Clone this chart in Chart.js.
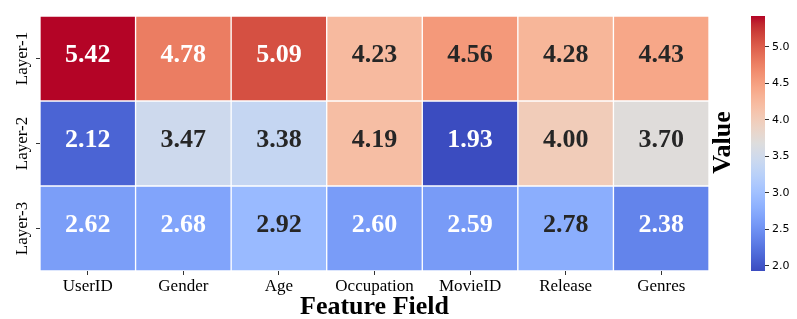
<!DOCTYPE html>
<html><head><meta charset="utf-8">
<script src="https://cdn.jsdelivr.net/npm/chart.js@4.4.1/dist/chart.umd.min.js"></script>
<style>
html,body{margin:0;padding:0;background:#fff;}
#wrap{position:relative;width:797px;height:319px;background:#fff;}
#main{position:absolute;left:0;top:0;}
#cb{position:absolute;left:700px;top:0;}
</style></head><body>
<div id="wrap"><canvas id="main" width="797" height="319"></canvas><canvas id="cb" width="97" height="319"></canvas></div>
<script>
const fields = ['UserID', 'Gender', 'Age', 'Occupation', 'MovieID', 'Release', 'Genres'];
const layers = ['Layer-1', 'Layer-2', 'Layer-3'];
const layer1 = [5.42, 4.78, 5.09, 4.23, 4.56, 4.28, 4.43];
const layer2 = [2.12, 3.47, 3.38, 4.19, 1.93, 4.00, 3.70];
const layer3 = [2.62, 2.68, 2.92, 2.60, 2.59, 2.78, 2.38];
const vmin = 1.93, vmax = 5.42;
const cbTicks = [2.0, 2.5, 3.0, 3.5, 4.0, 4.5, 5.0];
const rows = [layer1, layer2, layer3];

const SERIF = '"Liberation Serif", "Times New Roman", serif';

// coolwarm colormap (Moreland)
const CW = [[59,76,192],[68,90,204],[77,104,215],[87,117,225],[98,130,234],[108,142,241],[119,154,247],[130,165,251],[141,176,254],[152,185,255],[163,194,255],[174,201,253],[184,208,249],[194,213,244],[204,217,238],[213,219,230],[221,221,221],[229,216,209],[236,211,197],[241,204,185],[245,196,173],[247,187,160],[247,177,148],[247,166,135],[244,154,123],[241,141,111],[236,127,99],[229,112,88],[222,96,77],[213,80,66],[203,62,56],[192,40,47],[180,4,38]];
function cmap(t){ t=Math.max(0,Math.min(1,t)); const p=t*(CW.length-1); const i=Math.min(CW.length-2,Math.floor(p)); const f=p-i; const a=CW[i], b=CW[i+1]; return [0,1,2].map(k=>Math.round(a[k]+(b[k]-a[k])*f)); }
function rgb(c){ return 'rgb('+c[0]+','+c[1]+','+c[2]+')'; }
function colorFor(v){ return cmap((v-vmin)/(vmax-vmin)); }
function lum(c){ const l=c.map(x=>{x/=255; return x<=0.03928 ? x/12.92 : Math.pow((x+0.055)/1.055,2.4);}); return 0.2126*l[0]+0.7152*l[1]+0.0722*l[2]; }
function textColorFor(v){ return lum(colorFor(v)) < 0.408 ? '#ffffff' : '#262626'; }

const datasets = rows.map((vals, r) => ({
  label: layers[r],
  stack: 'heat',
  data: vals.map(() => [r, r + 1]),
  values: vals,
  backgroundColor: vals.map(v => rgb(colorFor(v))),
  borderColor: '#ffffff',
  borderWidth: 1,
  borderSkipped: false,
  barPercentage: 1,
  categoryPercentage: 1
}));

const annot = {
  id: 'annot',
  afterDatasetsDraw(chart) {
    const ctx = chart.ctx;
    ctx.save();
    ctx.font = 'bold 26px ' + SERIF;
    ctx.textAlign = 'center';
    ctx.textBaseline = 'middle';
    chart.data.datasets.forEach((ds, di) => {
      chart.getDatasetMeta(di).data.forEach((el, i) => {
        const v = ds.values[i];
        ctx.fillStyle = textColorFor(v);
        ctx.fillText(v.toFixed(2), el.x, (el.y + el.base) / 2 - 3);
      });
    });
    ctx.restore();
  }
};

const ylab = {
  id: 'ylab',
  afterDraw(chart) {
    const s = chart.scales.yl;
    const ctx = chart.ctx;
    ctx.save();
    ctx.font = '17px ' + SERIF;
    ctx.fillStyle = '#000';
    ctx.textAlign = 'center';
    ctx.textBaseline = 'middle';
    layers.forEach((lab, i) => {
      const y = s.getPixelForValue(i);
      ctx.save();
      ctx.translate(s.right - 17.5, y);
      ctx.rotate(-Math.PI / 2);
      ctx.fillText(lab, 0, 0);
      ctx.restore();
    });
    ctx.restore();
  }
};

new Chart(document.getElementById('main'), {
  type: 'bar',
  data: { labels: fields, datasets: datasets },
  options: {
    responsive: false, animation: false, events: [],
    layout: { padding: { left: 0, right: 88, top: 16, bottom: 0 } },
    plugins: { legend: { display: false }, tooltip: { enabled: false } },
    scales: {
      x: {
        type: 'category', stacked: true, offset: true,
        grid: { offset: false, drawOnChartArea: false, drawTicks: true, tickLength: 4, color: '#333' },
        border: { display: false },
        ticks: { font: { family: SERIF, size: 17 }, color: '#000', padding: 1, maxRotation: 0, minRotation: 0, autoSkip: false },
        title: { display: true, text: 'Feature Field', font: { family: SERIF, size: 26, weight: 'bold', lineHeight: 0.9 }, color: '#000', padding: 0 },
        afterFit(s) { s.height = 48; }
      },
      y: { type: 'linear', min: 0, max: 3, reverse: true, display: false, stacked: false },
      yl: {
        type: 'category', labels: layers, position: 'left', offset: true,
        grid: { offset: false, drawOnChartArea: false, drawTicks: true, tickLength: 4, color: '#333' },
        border: { display: false },
        ticks: { callback: () => '' },
        afterFit(s) { s.width = 40; }
      }
    }
  },
  plugins: [annot, ylab]
});

const valueTitle = {
  id: 'valueTitle',
  afterDraw(chart) {
    const a = chart.chartArea;
    const ctx = chart.ctx;
    ctx.save();
    ctx.font = 'bold 26px ' + SERIF;
    ctx.fillStyle = '#000';
    ctx.textAlign = 'center';
    ctx.textBaseline = 'middle';
    ctx.translate(a.left - 27.5, (a.top + a.bottom) / 2 - 1);
    ctx.rotate(-Math.PI / 2);
    ctx.fillText('Value', 0, 0);
    ctx.restore();
  }
};

new Chart(document.getElementById('cb'), {
  type: 'bar',
  data: {
    labels: ['Value'],
    datasets: [{
      data: [[vmin, vmax]],
      backgroundColor: (c) => {
        const chart = c.chart;
        if (!chart.chartArea) return rgb(CW[16]);
        const s = chart.scales.y;
        const g = chart.ctx.createLinearGradient(0, s.getPixelForValue(vmin), 0, s.getPixelForValue(vmax));
        CW.forEach((col, i) => g.addColorStop(i / (CW.length - 1), rgb(col)));
        return g;
      },
      borderWidth: 0, barPercentage: 1, categoryPercentage: 1
    }]
  },
  options: {
    responsive: false, animation: false, events: [],
    layout: { padding: { left: 51, right: 0, top: 16, bottom: 48 } },
    plugins: { legend: { display: false }, tooltip: { enabled: false } },
    scales: {
      x: { display: false },
      y: {
        position: 'right', min: vmin, max: vmax,
        grid: { drawOnChartArea: false, drawTicks: true, tickLength: 4, color: '#333' },
        border: { display: false },
        ticks: { font: { family: '"DejaVu Sans", sans-serif', size: 11 }, color: '#000', padding: 3, callback: v => Number(v).toFixed(1) },
        afterBuildTicks(s) { s.ticks = cbTicks.map(v => ({ value: v })); },
        afterFit(s) { s.width = 32; }
      }
    }
  },
  plugins: [valueTitle]
});
</script>
</body></html>
